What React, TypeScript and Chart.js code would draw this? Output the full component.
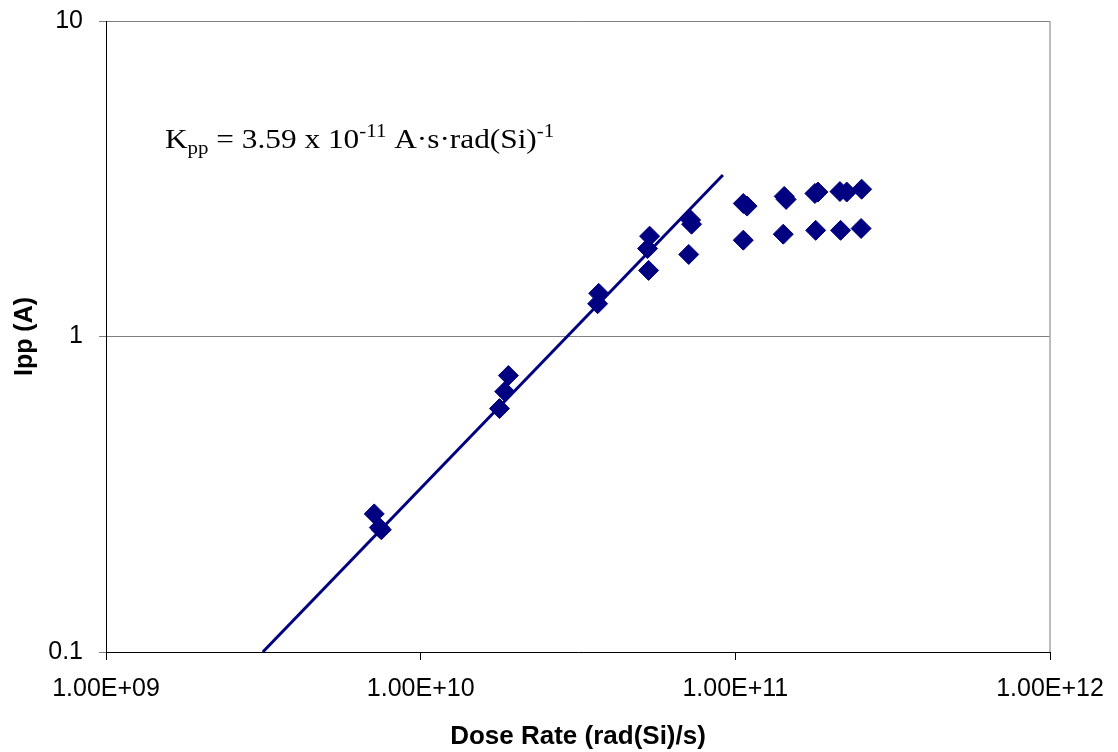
import React, { useEffect, useRef } from "react";
import { Chart, registerables } from "chart.js";

Chart.register(...registerables);

// Measured photocurrent peaks vs. dose rate
const doseRate = [
  7.12e9, 7.39e9, 7.5e9,
  1.78e10, 1.85e10, 1.9e10,
  3.65e10, 3.68e10,
  5.26e10, 5.3e10, 5.34e10,
  7.11e10, 7.21e10, 7.26e10,
  1.06e11, 1.06e11, 1.09e11,
  1.42e11, 1.43e11, 1.45e11,
  1.79e11, 1.8e11, 1.83e11,
  2.15e11, 2.16e11, 2.26e11,
  2.51e11, 2.52e11,
];
const ipp = [
  0.274, 0.248, 0.244,
  0.591, 0.669, 0.752,
  1.27, 1.37,
  1.9, 1.62, 2.08,
  1.82, 2.34, 2.27,
  2.02, 2.64, 2.59,
  2.11, 2.78, 2.72,
  2.84, 2.17, 2.87,
  2.88, 2.17, 2.87,
  2.2, 2.93,
];

// Linear fit Ipp = Kpp * dose rate
const fitDose = [3.15e9, 9.13e10];
const fitIpp = [0.1, 3.25];

const xTickValues = [1e9, 1e10, 1e11, 1e12];
const xTickLabels = ["1.00E+09", "1.00E+10", "1.00E+11", "1.00E+12"];
const yTickValues = [0.1, 1, 10];
const yTickLabels = ["0.1", "1", "10"];

const xTitle = "Dose Rate (rad(Si)/s)";
const yTitle = "Ipp (A)";

// Fit constant label, split into normal / subscript / superscript runs
const kppText: { t: string; k: "n" | "sub" | "sup" }[] = [
  { t: "K", k: "n" },
  { t: "pp", k: "sub" },
  { t: " = 3.59 x 10", k: "n" },
  { t: "-11", k: "sup" },
  { t: " A\u00B7s\u00B7rad(Si)", k: "n" },
  { t: "-1", k: "sup" },
];

const NAVY = "#000080";
const SANS = "'Liberation Sans', Arial, sans-serif";
const SERIF = "'Liberation Serif', 'Times New Roman', serif";

const frameAndLabel = {
  id: "frameAndLabel",
  afterDraw(chart: any) {
    const { ctx, chartArea } = chart;
    ctx.save();
    // light right edge of the plot frame
    ctx.strokeStyle = "#a6a6a6";
    ctx.lineWidth = 1.5;
    ctx.beginPath();
    ctx.moveTo(chartArea.right, chartArea.top);
    ctx.lineTo(chartArea.right, chartArea.bottom);
    ctx.stroke();

    // Kpp annotation (slightly wide serif lettering)
    const x0 = chartArea.left + 59;
    const base = chartArea.top + 127;
    ctx.translate(x0, base);
    ctx.scale(1.16, 1);
    ctx.fillStyle = "#000";
    ctx.textBaseline = "alphabetic";
    ctx.textAlign = "left";
    let x = 0;
    for (const seg of kppText) {
      let size = 27;
      let dy = 0;
      if (seg.k === "sub") {
        size = 18;
        dy = 6;
      } else if (seg.k === "sup") {
        size = 18;
        dy = -11;
      }
      ctx.font = `${size}px ${SERIF}`;
      ctx.fillText(seg.t, x, dy);
      x += ctx.measureText(seg.t).width;
    }
    ctx.restore();
  },
};

export default function App() {
  const ref = useRef<HTMLCanvasElement | null>(null);

  useEffect(() => {
    if (!ref.current) return;
    const points = doseRate.map((d, i) => ({ x: d, y: ipp[i] }));
    const fit = fitDose.map((d, i) => ({ x: d, y: fitIpp[i] }));

    const chart = new Chart(ref.current, {
      type: "scatter",
      data: {
        datasets: [
          {
            label: "Ipp",
            data: points,
            pointStyle: "rectRot",
            pointRadius: 10,
            pointBackgroundColor: NAVY,
            pointBorderColor: NAVY,
            pointBorderWidth: 1,
            showLine: false,
          },
          {
            label: "Fit",
            data: fit,
            showLine: true,
            borderColor: NAVY,
            borderWidth: 3,
            pointRadius: 0,
            fill: false,
          },
        ],
      },
      options: {
        responsive: false,
        animation: false,
        layout: { padding: { left: 0, top: 21, right: 68, bottom: 0 } },
        plugins: {
          legend: { display: false },
          tooltip: { enabled: false },
        },
        scales: {
          x: {
            type: "logarithmic",
            min: 1e9,
            max: 1e12,
            afterBuildTicks: (s: any) => {
              s.ticks = xTickValues.map((v) => ({ value: v }));
            },
            afterFit: (s: any) => {
              s.height = 100;
              s.paddingLeft = 0;
              s.paddingRight = 0;
            },
            ticks: {
              callback: (v: any) => {
                const i = xTickValues.indexOf(Number(v));
                return i >= 0 ? xTickLabels[i] : "";
              },
              color: "#000",
              font: { family: SANS, size: 25 },
              padding: 14,
              maxRotation: 0,
              autoSkip: false,
            },
            grid: {
              drawOnChartArea: false,
              drawTicks: true,
              tickLength: 8,
              tickColor: "#000",
            },
            border: { color: "#000", width: 1 },
            title: {
              display: true,
              text: xTitle,
              color: "#000",
              font: { family: SANS, size: 26, weight: "bold" },
              padding: { top: 0, bottom: 0 },
            },
          },
          y: {
            type: "logarithmic",
            min: 0.1,
            max: 10,
            afterBuildTicks: (s: any) => {
              s.ticks = yTickValues.map((v) => ({ value: v }));
            },
            afterFit: (s: any) => {
              s.width = 106;
              s.paddingTop = 0;
              s.paddingBottom = 0;
            },
            ticks: {
              callback: (v: any) => {
                const i = yTickValues.indexOf(Number(v));
                return i >= 0 ? yTickLabels[i] : "";
              },
              color: "#000",
              font: { family: SANS, size: 25 },
              padding: 16,
              autoSkip: false,
            },
            grid: {
              color: "#808080",
              lineWidth: 1,
              drawTicks: true,
              tickLength: 7,
              tickColor: "#808080",
            },
            border: { color: "#000", width: 1 },
            title: {
              display: true,
              text: yTitle,
              color: "#000",
              font: { family: SANS, size: 25, weight: "bold" },
              padding: { top: 10, bottom: 0 },
            },
          },
        },
      },
      plugins: [frameAndLabel],
    } as any);

    return () => chart.destroy();
  }, []);

  return (
    <div style={{ position: "absolute", left: 0, top: 0, width: 1118, height: 752, background: "#fff" }}>
      <canvas ref={ref} width={1118} height={752} style={{ display: "block" }} />
    </div>
  );
}
